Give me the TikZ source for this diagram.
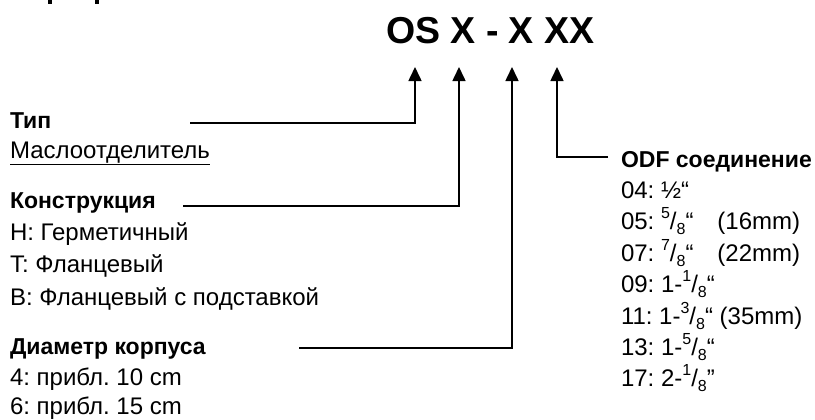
\documentclass[tikz,border=0pt]{standalone}
\usepackage{fontspec}
\setmainfont{Liberation Sans}
\usetikzlibrary{arrows.meta}
\newcommand{\myfr}[2]{\raisebox{0.42em}{\fontsize{16bp}{18bp}\selectfont #1}/\raisebox{-0.22em}{\fontsize{16bp}{18bp}\selectfont #2}}
\frenchspacing
\begin{document}
\begin{tikzpicture}[x=1bp,y=-1bp,
  every node/.style={inner sep=0pt, outer sep=0pt, anchor=base west},
  body/.style={font=\fontsize{24bp}{28bp}\selectfont},
  head/.style={font=\fontsize{23bp}{28bp}\selectfont\bfseries},
  conn/.style={line width=1.6bp, -{Triangle[width=13bp,length=14bp]}}]
\useasboundingbox (0,0) rectangle (815,419);
% cropped fragments at top-left
\fill (48,0) rectangle (52,4);
\fill (95,0) rectangle (99,4);
% title
\node[font=\fontsize{37.5bp}{40bp}\selectfont\bfseries] (title) at (386,43) {OS X - X XX};
% arrow tips and free ends
\coordinate (t1) at (415,67);
\coordinate (t2) at (459,67);
\coordinate (t3) at (512,67);
\coordinate (t4) at (557,67);
\coordinate (s1) at (190,123);
\coordinate (s2) at (183,206);
\coordinate (s3) at (299,348);
\coordinate (s4) at (608,157);
\draw[conn] (s1) -| (t1);
\draw[conn] (s2) -| (t2);
\draw[conn] (s3) -| (t3);
\draw[conn] (s4) -| (t4);
% left column
\node[head] (typ) at (10,128) {Тип};
\node[body] (typv) at (10,158) {\underline{Маслоотделитель}};
\node[head] (kon) at (10,208) {Конструкция};
\node[body] (konh) at (10,240) {H: Герметичный};
\node[body] (kont) at (10,272) {T: Фланцевый};
\node[body] (konb) at (10,305) {B: Фланцевый с подставкой};
\node[head] (dia) at (10,354) {Диаметр корпуса};
\node[body] (dia4) at (10,385) {4: прибл. 10 cm};
\node[body] (dia6) at (10,414) {6: прибл. 15 cm};
% right column
\node[head] (odf) at (621,167) {ODF соединение};
\node[body] (o04) at (621,198) {04: ½“};
\node[body] (o05) at (621,229) {05: \myfr{5}{8}“\hspace{24bp}(16mm)};
\node[body] (o07) at (621,261) {07: \myfr{7}{8}“\hspace{24bp}(22mm)};
\node[body] (o09) at (621,292) {09: 1-\myfr{1}{8}“};
\node[body] (o11) at (621,324) {11: 1-\myfr{3}{8}“ (35mm)};
\node[body] (o13) at (621,355) {13: 1-\myfr{5}{8}“};
\node[body] (o17) at (621,386) {17: 2-\myfr{1}{8}”};
\end{tikzpicture}
\end{document}
